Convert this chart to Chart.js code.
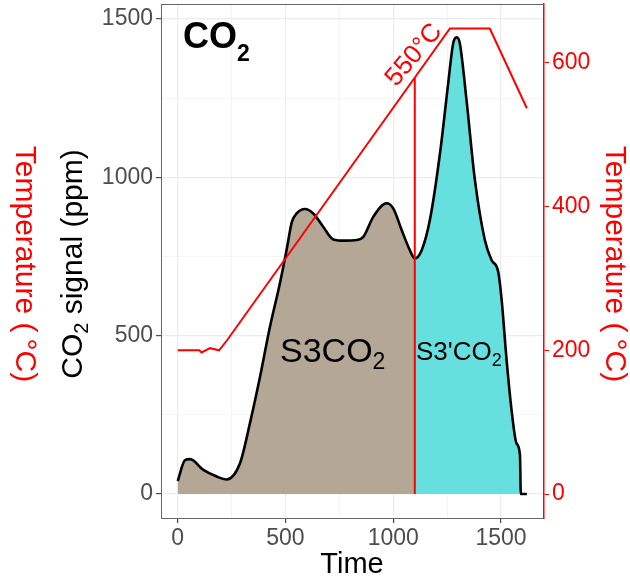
<!DOCTYPE html>
<html>
<head>
<meta charset="utf-8">
<script src="https://cdn.jsdelivr.net/npm/chart.js@4.4.1/dist/chart.umd.min.js"></script>
<style>
  html, body { margin: 0; padding: 0; background: #ffffff; }
  #chart { display: block; }
</style>
</head>
<body>
<canvas id="chart" width="630" height="582"></canvas>
<script>
// CO2 signal (ppm) over time
const timeCO2 = [0, 34, 57, 119, 181, 227, 289, 335, 382, 428, 474, 505, 530, 552, 590, 629, 675, 722, 776, 830, 861, 908, 969, 1000, 1039, 1077, 1100, 1132, 1170, 1217, 1255, 1278, 1294, 1309, 1340, 1379, 1425, 1456, 1487, 1503, 1526, 1549, 1572, 1588, 1592, 1620];
const co2Signal = [41, 107, 110, 76, 55, 46, 97, 223, 370, 528, 665, 770, 860, 886, 900, 886, 844, 804, 800, 802, 812, 876, 918, 902, 834, 770, 744, 770, 865, 1076, 1297, 1423, 1442, 1423, 1244, 991, 802, 739, 702, 613, 423, 265, 160, 123, 0, 0];

// temperature programme (°C)
const timeTemp = [0, 60, 100, 111, 150, 192, 229, 1263, 1448, 1620];
const temperature = [200, 200, 200, 197, 203, 200, 214, 648, 648, 537];

// split between S3CO2 and S3'CO2
const cutTime = 1100;
const cutTemp = 579;
const co2End = 1592;

const xTicks = [0, 250, 500, 750, 1000, 1250, 1500];
const yTicks = [0, 250, 500, 750, 1000, 1250, 1500];
const y2Ticks = [0, 200, 400, 600];

const FONT = '"Liberation Sans", Arial, sans-serif';
const RED = '#ff0000';

const co2Points = timeCO2.map((t, i) => ({ x: t, y: co2Signal[i] }));
const tempPoints = timeTemp.map((t, i) => ({ x: t, y: temperature[i] }));

// draws text with a lowered subscript part
function drawRich(ctx, parts, x, y, align) {
    let w = 0;
    parts.forEach(p => {
        ctx.font = p.font;
        p.w = ctx.measureText(p.t).width;
        w += p.w;
    });
    let cx = align === 'center' ? x - w / 2 : x;
    ctx.textAlign = 'left';
    ctx.textBaseline = 'alphabetic';
    parts.forEach(p => {
        ctx.font = p.font;
        ctx.fillText(p.t, cx, y + (p.dy || 0));
        cx += p.w;
    });
}

const textPlugin = {
    id: 'texts',
    afterDatasetsDraw(chart) {
        const ctx = chart.ctx;
        const a = chart.chartArea;
        ctx.save();
        // top panel border
        ctx.strokeStyle = '#666666';
        ctx.lineWidth = 1;
        ctx.beginPath();
        ctx.moveTo(a.left, a.top + 0.5);
        ctx.lineTo(a.right, a.top + 0.5);
        ctx.stroke();

        ctx.fillStyle = '#000000';
        drawRich(ctx, [
            { t: 'CO', font: 'bold 36px ' + FONT },
            { t: '2', font: 'bold 23px ' + FONT, dy: 13 }
        ], 183, 48, 'left');

        drawRich(ctx, [
            { t: 'S3CO', font: '34px ' + FONT },
            { t: '2', font: '23px ' + FONT, dy: 7 }
        ], 280, 362, 'left');

        drawRich(ctx, [
            { t: "S3'CO", font: '26px ' + FONT },
            { t: '2', font: '18px ' + FONT, dy: 6 }
        ], 416, 360, 'left');

        // 550°C along the ramp
        ctx.save();
        ctx.translate(414, 55);
        ctx.rotate(-50 * Math.PI / 180);
        ctx.fillStyle = RED;
        ctx.font = '26px ' + FONT;
        ctx.textAlign = 'center';
        ctx.textBaseline = 'middle';
        ctx.fillText('550°C', 0, 0);
        ctx.restore();
        ctx.restore();
    },
    afterDraw(chart) {
        const ctx = chart.ctx;
        ctx.save();
        // x title
        ctx.fillStyle = '#000000';
        ctx.font = '29px ' + FONT;
        ctx.textAlign = 'center';
        ctx.textBaseline = 'alphabetic';
        ctx.fillText('Time', 352, 573);

        // left black title
        ctx.save();
        ctx.translate(82, 264);
        ctx.rotate(-Math.PI / 2);
        drawRich(ctx, [
            { t: 'CO', font: '30px ' + FONT },
            { t: '2', font: '20px ' + FONT, dy: 6 },
            { t: ' signal (ppm)', font: '30px ' + FONT }
        ], 0, 0, 'center');
        ctx.restore();

        // red titles (left and right)
        ctx.fillStyle = RED;
        ctx.font = '30px ' + FONT;
        ctx.textAlign = 'center';
        ctx.textBaseline = 'middle';
        [24, 614].forEach(x => {
            ctx.save();
            ctx.translate(x, 264);
            ctx.rotate(Math.PI / 2);
            ctx.fillText('Temperature (\u2009°C)', 0, 0);
            ctx.restore();
        });
        ctx.restore();
    }
};

const isMajor = v => v % 500 === 0;

function fixBox(size, key) {
    return s => {
        s[key] = size;
        s.paddingTop = 0;
        s.paddingBottom = 0;
        s.paddingLeft = 0;
        s.paddingRight = 0;
    };
}

new Chart(document.getElementById('chart'), {
    type: 'line',
    data: {
        datasets: [
            {
                data: [{ x: cutTime, y: 0 }, { x: cutTime, y: cutTemp }],
                yAxisID: 'y2',
                borderColor: RED,
                borderWidth: 2,
                pointRadius: 0,
                order: 0
            },
            {
                data: tempPoints,
                yAxisID: 'y2',
                borderColor: RED,
                borderWidth: 2,
                pointRadius: 0,
                order: 1
            },
            {
                data: co2Points,
                borderColor: '#000000',
                borderWidth: 2.6,
                pointRadius: 0,
                cubicInterpolationMode: 'monotone',
                order: 2
            },
            {
                data: co2Points.filter(p => p.x <= cutTime),
                borderWidth: 0,
                borderColor: 'rgba(0,0,0,0)',
                backgroundColor: '#b5a796',
                fill: { value: 0 },
                pointRadius: 0,
                cubicInterpolationMode: 'monotone',
                order: 3
            },
            {
                data: co2Points.filter(p => p.x >= cutTime && p.x <= co2End),
                borderWidth: 0,
                borderColor: 'rgba(0,0,0,0)',
                backgroundColor: '#65e0df',
                fill: { value: 0 },
                pointRadius: 0,
                cubicInterpolationMode: 'monotone',
                order: 4
            }
        ]
    },
    options: {
        responsive: false,
        animation: false,
        events: [],
        layout: { padding: { top: 4, left: 0, right: 0, bottom: 0 } },
        plugins: { legend: { display: false }, tooltip: { enabled: false } },
        scales: {
            x: {
                type: 'linear',
                min: -77.5,
                max: 1699.5,
                afterBuildTicks: s => { s.ticks = xTicks.map(v => ({ value: v })); },
                afterFit: fixBox(64, 'height'),
                ticks: {
                    autoSkip: false,
                    maxRotation: 0,
                    padding: 2,
                    color: '#4d4d4d',
                    font: { family: FONT, size: 23 },
                    callback: v => isMajor(v) ? String(v) : ''
                },
                grid: {
                    color: c => isMajor(c.tick.value) ? '#ebebeb' : '#f3f3f3',
                    lineWidth: c => isMajor(c.tick.value) ? 1.2 : 0.8,
                    tickColor: c => isMajor(c.tick.value) ? '#4d4d4d' : 'rgba(0,0,0,0)',
                    tickLength: 5
                },
                border: { color: '#666666', width: 1 }
            },
            y: {
                position: 'left',
                min: -75.8,
                max: 1547.4,
                afterBuildTicks: s => { s.ticks = yTicks.map(v => ({ value: v })); },
                afterFit: fixBox(161, 'width'),
                ticks: {
                    autoSkip: false,
                    padding: 3,
                    color: '#4d4d4d',
                    font: { family: FONT, size: 23 },
                    callback: v => isMajor(v) ? String(v) : ''
                },
                grid: {
                    color: c => isMajor(c.tick.value) ? '#ebebeb' : '#f3f3f3',
                    lineWidth: c => isMajor(c.tick.value) ? 1.2 : 0.8,
                    tickColor: c => isMajor(c.tick.value) ? '#4d4d4d' : 'rgba(0,0,0,0)',
                    tickLength: 5
                },
                border: { color: '#666666', width: 1 }
            },
            y2: {
                position: 'right',
                min: -33.4,
                max: 682.1,
                afterBuildTicks: s => { s.ticks = y2Ticks.map(v => ({ value: v })); },
                afterFit: fixBox(86, 'width'),
                ticks: {
                    autoSkip: false,
                    padding: 3,
                    color: RED,
                    font: { family: FONT, size: 23 }
                },
                grid: {
                    drawOnChartArea: false,
                    tickColor: RED,
                    tickLength: 5
                },
                border: { color: RED, width: 1.5 }
            }
        }
    },
    plugins: [textPlugin]
});
</script>
</body>
</html>
